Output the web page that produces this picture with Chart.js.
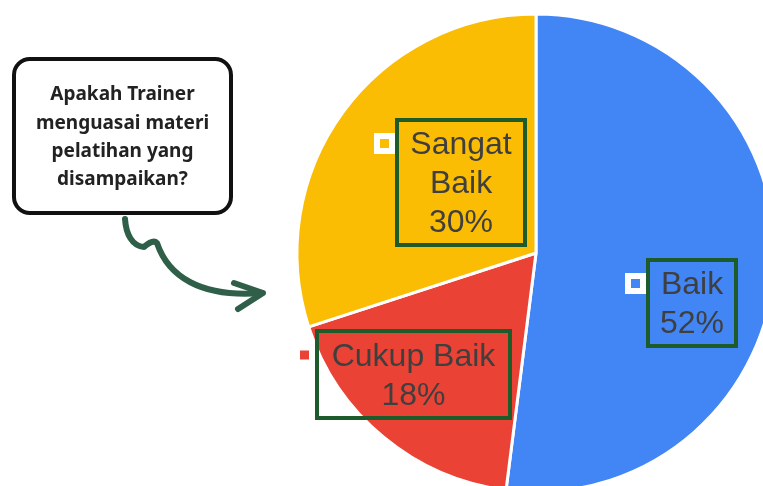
<!DOCTYPE html>
<html>
<head>
<meta charset="utf-8">
<script src="https://cdn.jsdelivr.net/npm/chart.js@4.4.0/dist/chart.umd.min.js"></script>
<style>
    html, body { margin: 0; padding: 0; background: #fff; }
    #wrap { position: relative; width: 763px; height: 486px; overflow: hidden; }
    #pie { position: absolute; left: 0; top: 0; }
</style>
</head>
<body>
<div id="wrap"><canvas id="pie" width="1072" height="506"></canvas></div>
<script>
// ===== DATA =====
const categories = ['Baik', 'Cukup Baik', 'Sangat Baik'];
const values = [52, 18, 30];
const sliceColors = ['#4285F4', '#EA4335', '#FBBC04'];
const question = ['Apakah Trainer', 'menguasai materi', 'pelatihan yang', 'disampaikan?'];

// ===== LAYOUT (boxes relative to pie centre) =====
const labelBoxes = [
    { dx: 112, dy: 7, w: 88, h: 86, wrap: false },
    { dx: -219, dy: 78, w: 193, h: 87, wrap: false },
    { dx: -139, dy: -133, w: 128, h: 125, wrap: true }
];
const LINE_H = 39;
const GREEN = '#1d5c2a';
const ARROW = '#2f5f48';

const annotations = {
    id: 'annotations',
    afterDatasetsDraw(chart) {
        const ctx = chart.ctx;
        const meta = chart.getDatasetMeta(0);

        meta.data.forEach((arc, i) => {
            const b = labelBoxes[i];
            const left = arc.x + b.dx;
            const top = arc.y + b.dy;
            const lines = (b.wrap ? categories[i].split(' ') : [categories[i]]).concat(values[i] + '%');

            // green frame
            ctx.save();
            ctx.strokeStyle = GREEN;
            ctx.lineWidth = 4;
            ctx.strokeRect(left, top, b.w, b.h);

            // text
            ctx.fillStyle = '#3f3f3f';
            ctx.font = '32px "Liberation Sans", Arial, sans-serif';
            ctx.textAlign = 'center';
            ctx.textBaseline = 'middle';
            const cx = left + b.w / 2;
            const startY = top + b.h / 2 - (lines.length - 1) * LINE_H / 2;
            lines.forEach((t, k) => ctx.fillText(t, cx, startY + k * LINE_H + 2));

            // legend marker
            const mx = left - 12.5, my = startY;
            ctx.fillStyle = '#fff';
            ctx.fillRect(mx - 10.5, my - 10.5, 21, 21);
            ctx.fillStyle = sliceColors[i];
            ctx.fillRect(mx - 4.5, my - 4.5, 9, 9);
            ctx.restore();
        });

        // question callout
        ctx.save();
        ctx.fillStyle = '#fff';
        ctx.strokeStyle = '#111';
        ctx.lineWidth = 4;
        ctx.beginPath();
        ctx.roundRect(14, 59, 217, 154, 16);
        ctx.fill();
        ctx.stroke();
        ctx.fillStyle = '#222';
        ctx.font = 'bold 19px "Noto Sans", sans-serif';
        ctx.textAlign = 'center';
        ctx.textBaseline = 'middle';
        question.forEach((t, k) => ctx.fillText(t, 122.5, 95 + k * 28.3));

        // wavy arrow
        ctx.strokeStyle = ARROW;
        ctx.lineWidth = 6;
        ctx.lineCap = 'round';
        ctx.lineJoin = 'round';
        ctx.beginPath();
        ctx.moveTo(125, 219);
        ctx.bezierCurveTo(126, 234, 132, 246, 144, 247);
        ctx.quadraticCurveTo(153, 239, 157, 243);
        ctx.bezierCurveTo(168, 276, 200, 298, 262, 293);
        ctx.stroke();
        ctx.beginPath();
        ctx.moveTo(234, 283);
        ctx.lineTo(263, 293);
        ctx.lineTo(238, 309);
        ctx.stroke();
        ctx.restore();
    }
};

new Chart(document.getElementById('pie'), {
    type: 'pie',
    data: {
        labels: categories,
        datasets: [{
            data: values,
            backgroundColor: sliceColors,
            borderColor: '#fff',
            borderWidth: 3,
            radius: 239
        }]
    },
    options: {
        responsive: false,
        animation: false,
        layout: { padding: 0 },
        plugins: {
            legend: { display: false },
            tooltip: { enabled: false }
        }
    },
    plugins: [annotations]
});
</script>
</body>
</html>
